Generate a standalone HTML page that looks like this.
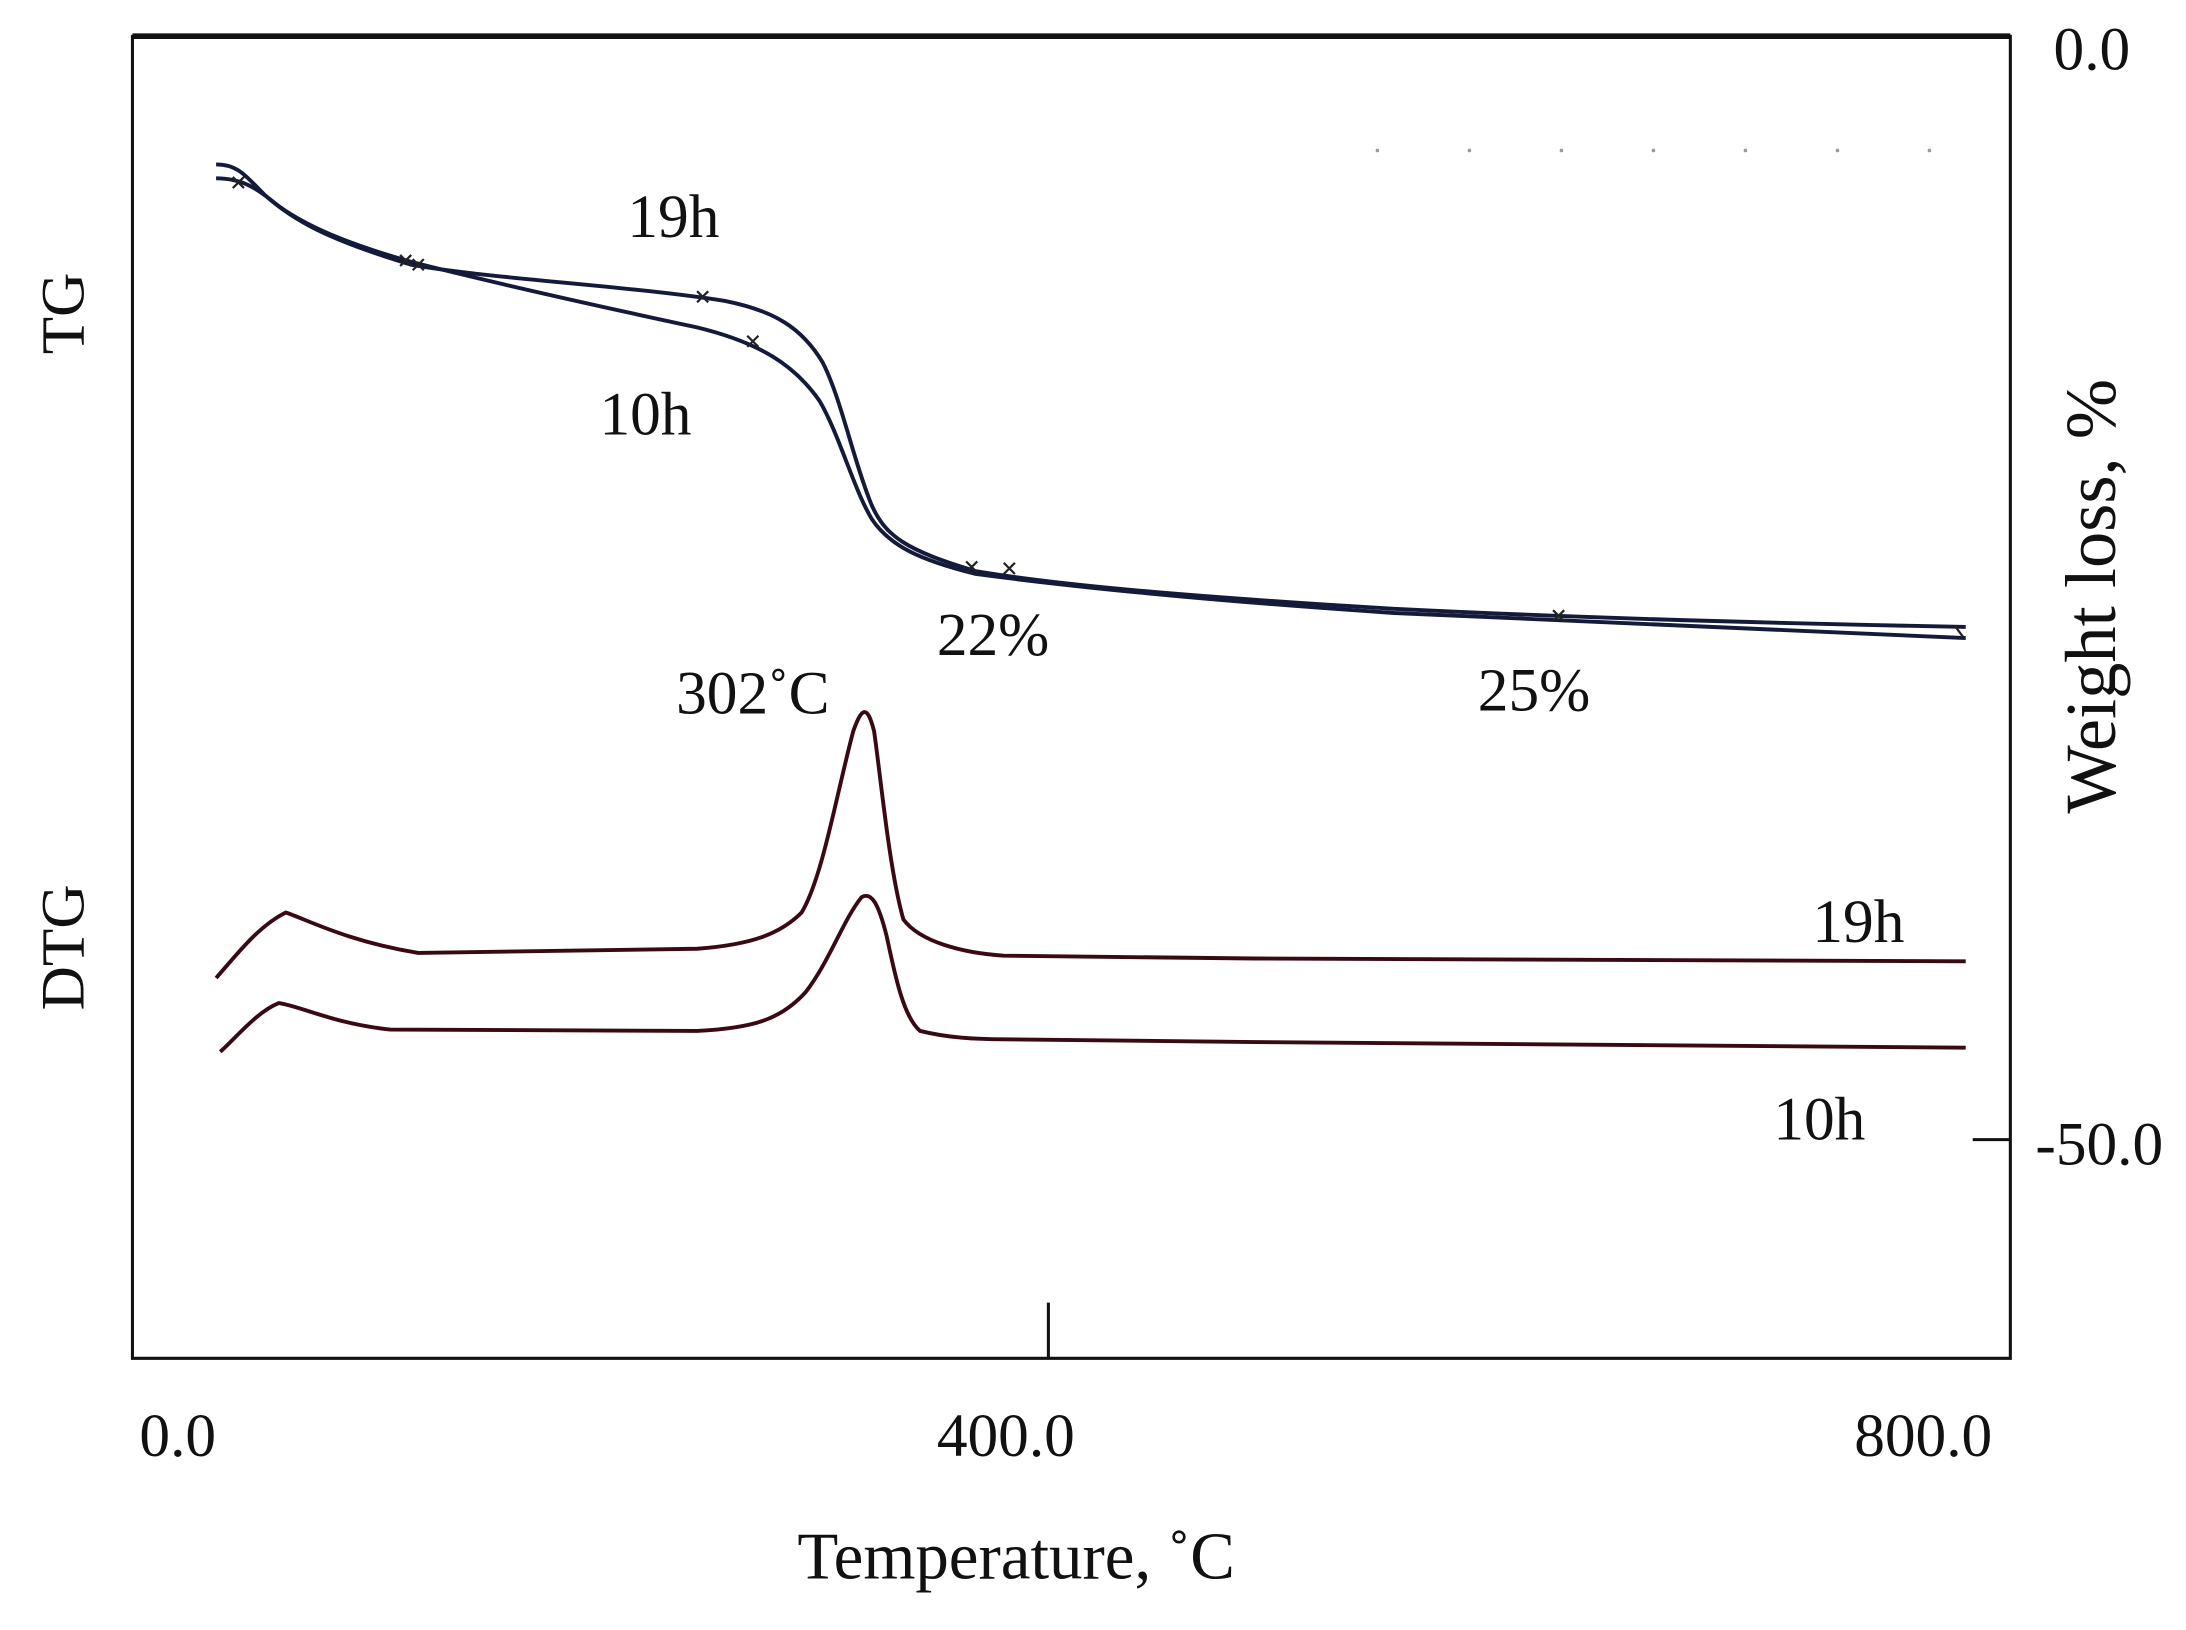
<!DOCTYPE html>
<html><head><meta charset="utf-8"><style>html,body{margin:0;padding:0;background:#fff}svg{display:block}</style></head>
<body>
<svg width="2186" height="1630" viewBox="0 0 1568 1170" preserveAspectRatio="none" xmlns="http://www.w3.org/2000/svg" font-family="Liberation Serif, serif" fill="#111">
<rect width="1568" height="1170" fill="#fff"/>
<g stroke="#111" stroke-width="2.2" fill="none">
<path d="M95,25 L95,975 L1442,975 L1442,25"/>
<path d="M95,26 L1442,26" stroke-width="4"/>
<path d="M752,935 L752,975"/>
<path d="M1415,818 L1442,818"/>
</g>
<g fill="#999">
<circle cx="988" cy="108" r="1.3"/><circle cx="1054" cy="108" r="1.3"/><circle cx="1120" cy="108" r="1.3"/><circle cx="1186" cy="108" r="1.3"/><circle cx="1252" cy="108" r="1.3"/><circle cx="1318" cy="108" r="1.3"/><circle cx="1384" cy="108" r="1.3"/>
</g>
<g fill="none" stroke-width="2.8" stroke-linejoin="round">
<path stroke="#141a3a" d="M155,118 C170,118 175,125 190,140 C210,158 235,172 295,190 C350,200 450,205 520,216 C555,223 575,235 590,260 C603,285 612,330 625,362 C635,385 650,395 700,410 C760,420 850,428 1000,437 C1120,443 1250,447 1410,450"/>
<path stroke="#141a3a" d="M155,128 C175,128 185,136 200,148 C225,166 260,178 295,188 C350,202 430,220 500,235 C545,246 570,262 588,288 C602,312 612,350 625,372 C638,392 660,402 700,412 C760,420 850,430 1000,440 C1120,446 1250,452 1410,458"/>
<path stroke="#3a0a14" d="M155,702 C170,685 185,665 205,655 C220,660 250,676 300,684 L500,681 C540,678 560,670 575,655 C590,630 600,570 612,525 C618,508 622,505 627,525 C632,560 638,625 648,660 C660,676 690,684 720,686 L900,688 L1410,690"/>
<path stroke="#3a0a14" d="M158,755 C172,742 185,726 200,720 C215,722 240,735 280,739 L500,740 C540,738 560,732 578,712 C595,690 605,660 618,644 C625,640 630,648 636,672 C642,700 648,730 660,740 C680,745 700,746 720,746 L900,748 L1410,752"/>
</g>
<g stroke="#222" stroke-width="1.6">
<path d="M167,127 l8,8 M175,127 l-8,8"/><path d="M287,183 l8,8 M295,183 l-8,8"/><path d="M296,186 l8,8 M304,186 l-8,8"/>
<path d="M500,209 l8,8 M508,209 l-8,8"/><path d="M536,241 l8,8 M544,241 l-8,8"/>
<path d="M693,403 l8,8 M701,403 l-8,8"/><path d="M720,404 l8,8 M728,404 l-8,8"/>
<path d="M1114,438 l8,8 M1122,438 l-8,8"/><path d="M1402,449 l6,8"/>
</g>
<g font-size="44">
<text x="450" y="170">19h</text>
<text x="430" y="312">10h</text>
<text x="672" y="470">22%</text>
<text x="1060" y="510">25%</text>
<text x="485" y="512">302˚C</text>
<text x="1300" y="676">19h</text>
<text x="1272" y="818">10h</text>
<text x="1473" y="50">0.0</text>
<text x="1460" y="836">-50.0</text>
<text x="100" y="1045">0.0</text>
<text x="672" y="1045">400.0</text>
<text x="1330" y="1045">800.0</text>
<text x="572" y="1133" font-size="48">Temperature, ˚C</text>
<text transform="translate(60,225) rotate(-90)" text-anchor="middle">TG</text>
<text transform="translate(60,680) rotate(-90)" text-anchor="middle">DTG</text>
<text transform="translate(1517,428) rotate(-90)" text-anchor="middle" font-size="52">Weight loss, %</text>
</g>
</svg>
</body></html>
